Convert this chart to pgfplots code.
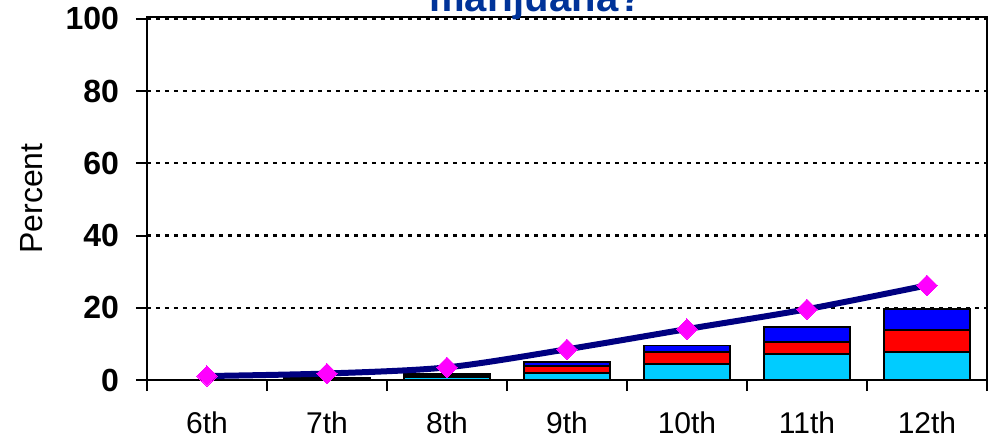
\documentclass[border=0pt]{standalone}
\usepackage{pgfplots}
\pgfplotsset{compat=1.18}
\usepackage{fontspec}
\setmainfont{Liberation Sans}

\definecolor{barcyan}{RGB}{0,204,255}
\definecolor{barred}{RGB}{255,0,0}
\definecolor{barblue}{RGB}{0,0,255}
\definecolor{linenavy}{RGB}{0,0,128}
\definecolor{markmag}{RGB}{255,0,255}
\definecolor{titleblue}{RGB}{0,51,153}

\pgfplotsset{
  base/.style={
    scale only axis,
    width=420pt, height=181.5pt,
    xmin=-0.5, xmax=6.5,
    ymin=0, ymax=100.5,
    at={(0,0)}, anchor=south west,
  },
}

\begin{document}
\begin{tikzpicture}
\begin{axis}[
  base,
  ybar stacked,
  bar width=43pt,
  axis line style={black, line width=1pt},
  tick align=outside,
  xtick pos=bottom, ytick pos=left,
  major tick length=5.5pt,
  minor tick length=5.5pt,
  tick style={black, line width=1pt},
  xtick={0,...,6},
  xticklabels={6th,7th,8th,9th,10th,11th,12th},
  major x tick style={draw=none},
  minor xtick={-0.5,0.5,...,6.5},
  xticklabel style={font=\fontsize{15pt}{18pt}\selectfont, yshift=-7pt},
  ytick={0,20,...,100},
  yticklabel style={font=\bfseries\fontsize{16pt}{19pt}\selectfont, xshift=-5pt},
  /pgf/number format/assume math mode=true,
  ymajorgrids,
  major grid style={black, line width=1.1pt, dash pattern=on 2pt off 2.5pt},
  ylabel={Percent},
  ylabel style={font=\fontsize{16pt}{19pt}\selectfont, at={(axis description cs:-0.137,0.5)}, anchor=center},
]
\addplot[fill=barcyan, draw=black, line width=0.8pt] coordinates {
  (0,0) (1,0.3) (2,0.9) (3,2.0) (4,4.4) (5,7.2) (6,7.8)
};
\addplot[fill=barred, draw=black, line width=0.8pt] coordinates {
  (0,0) (1,0.2) (2,0.4) (3,1.8) (4,3.3) (5,3.3) (6,6.0)
};
\addplot[fill=barblue, draw=black, line width=0.8pt] coordinates {
  (0,0) (1,0.2) (2,0.3) (3,1.2) (4,1.8) (5,4.1) (6,5.9)
};
\end{axis}
\begin{axis}[
  base,
  axis lines=none,
]
\addplot[linenavy, line width=3pt, smooth,
  mark=square*, mark size=3.6pt,
  mark options={rotate=45, fill=markmag, draw=markmag, line width=0pt}]
  coordinates {
  (0,1.1) (1,1.8) (2,3.5) (3,8.5) (4,14.1) (5,19.6) (6,26.2)
};
\end{axis}
\node[anchor=base, text=titleblue, font=\bfseries\fontsize{20pt}{24pt}\selectfont] at (194.5pt,184.5pt) {marijuana?};
\pgfresetboundingbox
\useasboundingbox (-73.5pt,-33pt) rectangle (422.5pt,190pt);
\end{tikzpicture}
\end{document}
